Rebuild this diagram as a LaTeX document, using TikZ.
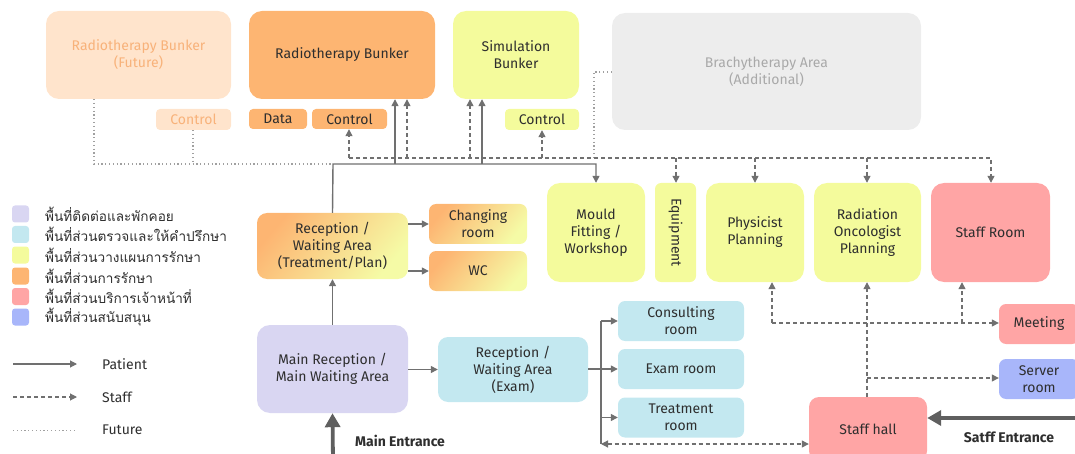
\documentclass[tikz,border=0pt]{standalone}
\usepackage{fontspec}
\setmainfont{Fira Sans}
\newfontfamily\thaifont[Script=Thai]{Loma}
\usetikzlibrary{arrows.meta}
\definecolor{cLav}{HTML}{D9D6F2}
\definecolor{cAqua}{HTML}{C3E8F0}
\definecolor{cYel}{HTML}{F4FB9C}
\definecolor{cOra}{HTML}{FDB572}
\definecolor{cPink}{HTML}{FFA5A5}
\definecolor{cBlue}{HTML}{A8B6FA}
\definecolor{cPeach}{HTML}{FFE4CC}
\definecolor{cPeachTxt}{HTML}{F8B27A}
\definecolor{cGreyBox}{HTML}{EDEDED}
\definecolor{cGreyTxt}{HTML}{A9A9A9}
\definecolor{cLine}{HTML}{707070}
\definecolor{cTxt}{HTML}{2E2E2E}
\definecolor{cDot}{HTML}{A0A0A0}
\tikzset{
  room/.style={rounded corners=13pt, draw=none, align=center, inner sep=0pt,
    text=cTxt, font=\fontsize{14}{17}\selectfont},
  tag/.style={room, rounded corners=4pt},
  grad/.style={top color=cOra, bottom color=cYel!90!white, shading angle=50},
  pat/.style={draw=cLine, line width=1.4pt, -{Triangle[length=7pt,width=7pt]}},
  patline/.style={draw=cLine, line width=1.4pt},
  stf/.style={draw=cLine, line width=1.2pt, dash pattern=on 4pt off 3pt,
    -{Triangle[length=7pt,width=7pt]}},
  fut/.style={draw=cDot, line width=1.2pt, dash pattern=on 1.2pt off 2.6pt},
  entry/.style={draw=cLine!85!black, line width=3.8pt,
    -{Triangle[length=14pt,width=15pt]}},
  legtxt/.style={anchor=west, inner sep=0pt, text=cTxt,
    font=\thaifont\fontsize{13.6}{15}\selectfont},
  plain/.style={anchor=west, inner sep=0pt, text=cTxt,
    font=\fontsize{14}{16}\selectfont},
  swatch/.style={rounded corners=3pt, minimum size=17pt, inner sep=0pt},
}
\begin{document}
\begin{tikzpicture}
% the page frame; nothing drawn later changes the page size
\useasboundingbox (0pt,0pt) rectangle (1075pt,-454pt);
\clip (0pt,0pt) rectangle (1075pt,-454pt);
\begin{scope}[x=1pt,y=-1pt]

% ---- treatment bunkers and simulation ----
\node[room, fill=cPeach, text=cPeachTxt, minimum width=185pt, minimum height=88pt]
  (futbunk) at (138.5,55) {Radiotherapy Bunker\\(Future)};
\node[tag, fill=cPeach, text=cPeachTxt, minimum width=75pt, minimum height=21pt]
  (futctrl) at (193.5,119.5) {Control};
\node[room, fill=cOra, minimum width=186pt, minimum height=88pt]
  (bunk) at (342,55) {Radiotherapy Bunker};
\node[tag, fill=cOra, minimum width=58pt, minimum height=20pt]
  (data) at (278,119) {Data};
\node[tag, fill=cOra, minimum width=75pt, minimum height=20pt]
  (ctrl) at (349.5,119) {Control};
\node[room, fill=cYel, minimum width=126pt, minimum height=88pt]
  (sim) at (516,55) {Simulation\\Bunker};
\node[tag, fill=cYel, minimum width=74pt, minimum height=21pt]
  (simctrl) at (542,119.5) {Control};
\node[room, fill=cGreyBox, text=cGreyTxt, minimum width=309pt, minimum height=117pt]
  (brachy) at (766.5,71.5) {Brachytherapy Area\\(Additional)};

% ---- planning row ----
\node[room, fill=cYel, minimum width=98pt, minimum height=99pt]
  (mould) at (596,232.5) {Mould\\Fitting /\\Workshop};
\node[tag, rounded corners=6pt, fill=cYel, minimum width=41pt, minimum height=99pt]
  (equip) at (675.5,232.5) {};
\node[rotate=-90, inner sep=0pt, text=cTxt, font=\fontsize{14}{17}\selectfont]
  (equiplbl) at (equip) {Equipment};
\node[room, fill=cYel, minimum width=98pt, minimum height=99pt]
  (phys) at (755,232.5) {Physicist\\Planning};
\node[room, fill=cYel, minimum width=107pt, minimum height=99pt]
  (radonc) at (867.5,232.5) {Radiation\\Oncologist\\Planning};
\node[room, fill=cPink, minimum width=119pt, minimum height=99pt]
  (staffroom) at (990.5,232.5) {Staff Room};

% ---- reception and patient rooms ----
\node[room, rounded corners=10pt, grad, minimum width=151pt, minimum height=66pt]
  (rectreat) at (332.5,246) {Reception /\\Waiting Area\\(Treatment/Plan)};
\node[tag, rounded corners=7pt, grad, minimum width=98pt, minimum height=40pt]
  (changing) at (478,224) {Changing\\room};
\node[tag, rounded corners=7pt, grad, minimum width=98pt, minimum height=40pt]
  (wc) at (478,271) {WC};
\node[room, fill=cLav, minimum width=151pt, minimum height=88pt]
  (mainrec) at (332.5,369) {Main Reception /\\Main Waiting Area};
\node[room, rounded corners=10pt, fill=cAqua, minimum width=150pt, minimum height=65pt]
  (recexam) at (513,369.5) {Reception /\\Waiting Area\\(Exam)};
\node[tag, rounded corners=7pt, fill=cAqua, minimum width=126pt, minimum height=40pt]
  (consult) at (681,321) {Consulting\\room};
\node[tag, rounded corners=7pt, fill=cAqua, minimum width=126pt, minimum height=40pt]
  (exam) at (681,369) {Exam room};
\node[tag, rounded corners=7pt, fill=cAqua, minimum width=126pt, minimum height=40pt]
  (treat) at (681,417.5) {Treatment\\room};

% ---- staff services ----
\node[tag, rounded corners=7pt, fill=cPink, minimum width=80pt, minimum height=40pt]
  (meeting) at (1039,324) {Meeting};
\node[tag, rounded corners=7pt, fill=cBlue, minimum width=80pt, minimum height=40pt]
  (server) at (1039,379) {Server\\room};
\node[room, rounded corners=10pt, fill=cPink, minimum width=118pt, minimum height=64pt]
  (staffhall) at (868,429) {Staff hall};

% ---- future links (dotted) ----
\coordinate (fbusL) at (94,164);
\coordinate (fbusR) at (333,164);
\coordinate (fctl) at (193,164);
\coordinate (brk) at (594,72);
\coordinate (brkend) at (594,158);
\draw[fut] (futbunk.south -| fbusL) -- (fbusL) -- (fbusR);
\draw[fut] (futctrl.south -| fctl) -- (fctl);
\draw[fut] (brachy.west |- brk) -- (brk) -- (brkend);

% ---- patient flow (solid) ----
\coordinate (pbus) at (333,164);
\coordinate (pb1) at (395,164);
\coordinate (pb2) at (482,164);
\draw[pat] (rectreat.north) -- (pbus) -| (mould.north);
\draw[pat] (pb1) -- (pb1 |- bunk.south);
\draw[pat] (pb2) -- (pb2 |- sim.south);
\draw[pat] (mainrec.north) -- (rectreat.south);
\draw[pat] (rectreat.east |- changing.west) -- (changing.west);
\draw[pat] (rectreat.east |- wc.west) -- (wc.west);
\draw[pat] (mainrec.east |- recexam.west) -- (recexam.west);
\coordinate (xbr) at (601,369);
\coordinate (xtop) at (601,321);
\coordinate (xbot) at (601,444);
\draw[patline] (recexam.east |- xbr) -- (xbr);
\draw[patline] (xtop) -- (xbot);
\draw[pat] (xtop) -- (consult.west);
\draw[pat] (xbr) -- (exam.west);
\draw[pat] (xtop |- treat.west) -- (treat.west);

% ---- staff flow (dashed) ----
\coordinate (sbusL) at (349,158);
\coordinate (sbusR) at (991,158);
\coordinate (sb1) at (407,158);
\coordinate (sb2) at (470,158);
\coordinate (sb3) at (542,158);
\coordinate (sd1) at (676,158);
\coordinate (sd2) at (755,158);
\coordinate (sd3) at (867,158);
\draw[stf] (sbusL) -- (sbusR) -- (sbusR |- staffroom.north);
\draw[stf] (sbusL) -- (sbusL |- ctrl.south);
\draw[stf] (sb1) -- (sb1 |- bunk.south);
\draw[stf] (sb2) -- (sb2 |- sim.south);
\draw[stf] (sb3) -- (sb3 |- simctrl.south);
\draw[stf] (sd1) -- (sd1 |- equip.north);
\draw[stf] (sd2) -- (sd2 |- phys.north);
\draw[stf] (sd3) -- (sd3 |- radonc.north);

\coordinate (mtL) at (772,323);
\coordinate (mtS) at (962,323);
\coordinate (hallN) at (867,397);
\coordinate (srv) at (867,378);
\draw[stf] (mtL) -- (mtL |- phys.south);
\draw[stf] (mtL) -- (meeting.west |- mtL);
\draw[stf] (mtS) -- (mtS |- staffroom.south);
\draw[stf] (hallN) -- (hallN |- radonc.south);
\draw[stf] (srv) -- (server.west |- srv);
\draw[stf, {Triangle[length=7pt,width=7pt]}-{Triangle[length=7pt,width=7pt]}]
  (xbot) -- (staffhall.west |- xbot);

% ---- entrances ----
\coordinate (mainin) at (333,462);
\coordinate (staffin) at (1085,418);
\draw[entry] (mainin) -- (mainrec.south);
\draw[entry] (staffin) -- (staffhall.east |- staffin);
\node[plain, font=\bfseries\fontsize{14}{16}\selectfont]
  (mainlbl) at (355,441) {Main Entrance};
\node[plain, anchor=center, font=\bfseries\fontsize{14}{16}\selectfont]
  (stafflbl) at (1009,437) {Satff Entrance};

% ---- legend ----
\node[swatch, fill=cLav]  (sw1) at (20.5,214) {};
\node[swatch, fill=cAqua] (sw2) at (20.5,234.5) {};
\node[swatch, fill=cYel]  (sw3) at (20.5,255) {};
\node[swatch, fill=cOra]  (sw4) at (20.5,276) {};
\node[swatch, fill=cPink] (sw5) at (20.5,296.5) {};
\node[swatch, fill=cBlue] (sw6) at (20.5,317) {};
\node[legtxt] (lg1) at (45,214) {พื้นที่ติดต่อและพักคอย};
\node[legtxt] (lg2) at (45,234.5) {พื้นที่ส่วนตรวจและให้คำปรึกษา};
\node[legtxt] (lg3) at (45,255) {พื้นที่ส่วนวางแผนการรักษา};
\node[legtxt] (lg4) at (45,276) {พื้นที่ส่วนการรักษา};
\node[legtxt] (lg5) at (45,296.5) {พื้นที่ส่วนบริการเจ้าหน้าที่};
\node[legtxt] (lg6) at (45,317) {พื้นที่ส่วนสนับสนุน};

\coordinate (lpA) at (13,364);
\coordinate (lpB) at (77,364);
\coordinate (lsA) at (13,397);
\coordinate (lsB) at (77,397);
\coordinate (lfA) at (13,430);
\coordinate (lfB) at (77,430);
\draw[pat, line width=1.1pt] (lpA) -- (lpB);
\draw[stf, line width=1.1pt] (lsA) -- (lsB);
\draw[fut, line width=1pt] (lfA) -- (lfB);
\node[plain] (lgp) at (102,364) {Patient};
\node[plain] (lgs) at (102,397) {Staff};
\node[plain] (lgf) at (102,430) {Future};
\end{scope}
\end{tikzpicture}
\end{document}
